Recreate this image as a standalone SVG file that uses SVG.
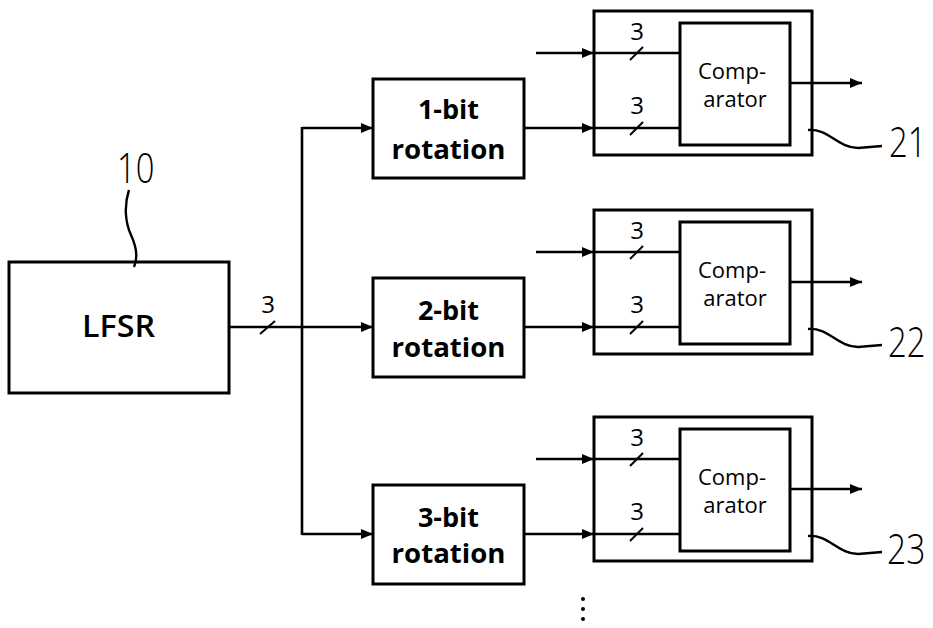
<svg xmlns="http://www.w3.org/2000/svg" width="933" height="628" viewBox="0 0 933 628">
<defs>
<marker id="ah" viewBox="0 0 12 10" refX="12" refY="5" markerWidth="12" markerHeight="10" markerUnits="userSpaceOnUse" orient="auto">
<path d="M0,0 L12,5 L0,10 z" fill="#000"/>
</marker>
<style>
.box{fill:#fff;stroke:#000;stroke-width:3}
.ln{fill:none;stroke:#000;stroke-width:2.6}
.arr{fill:none;stroke:#000;stroke-width:2.6;marker-end:url(#ah)}
.sl{stroke:#000;stroke-width:2}
.rot{font-family:"Open Sans","Liberation Sans",sans-serif;font-weight:bold;font-size:27px;text-anchor:middle;fill:#000}
.cmp{font-family:"Open Sans","Liberation Sans",sans-serif;font-size:22px;text-anchor:middle;fill:#000}
.bw{font-family:"Open Sans","Liberation Sans",sans-serif;font-size:24px;text-anchor:middle;fill:#000}
.ref{font-family:"Open Sans","Liberation Sans",sans-serif;font-weight:300;font-size:42px;fill:#000}
.lead{fill:none;stroke:#000;stroke-width:2.4}
</style>
</defs>
<rect width="933" height="628" fill="#fff"/>

<g id="lfsr">
<rect class="box" x="9" y="262" width="220" height="131"/>
<text x="118.5" y="337" font-family="'Open Sans','Liberation Sans',sans-serif" font-weight="600" font-size="31" text-anchor="middle" textLength="73" lengthAdjust="spacingAndGlyphs">LFSR</text>
</g>
<g id="ref10">
<path class="lead" d="M129,190 C124,205 125,222 131,235 C137,248 138,258 134,267"/>
<text class="ref" transform="translate(117,183) scale(0.78,1)">10</text>
</g>

<g id="rot1">
<rect class="box" x="373" y="79" width="151" height="99"/>
<text class="rot" x="448.5" y="119">1-bit</text>
<text class="rot" x="448.5" y="159" textLength="114" lengthAdjust="spacingAndGlyphs">rotation</text>
</g>
<g id="rot2">
<rect class="box" x="373" y="278" width="151" height="99"/>
<text class="rot" x="448.5" y="320">2-bit</text>
<text class="rot" x="448.5" y="357" textLength="114" lengthAdjust="spacingAndGlyphs">rotation</text>
</g>
<g id="rot3">
<rect class="box" x="373" y="485" width="151" height="99"/>
<text class="rot" x="448.5" y="527">3-bit</text>
<text class="rot" x="448.5" y="563" textLength="114" lengthAdjust="spacingAndGlyphs">rotation</text>
</g>

<g id="cmp21">
<rect class="box" x="594" y="11" width="218" height="144"/>
<rect class="box" x="680" y="23" width="110" height="122"/>
<text class="cmp" x="732" y="79">Comp-</text>
<text class="cmp" x="735" y="107">arator</text>
<path class="lead" d="M808,130 C828,128 838,148 858,148 L882,146"/>
<text class="ref" transform="translate(889,157) scale(0.78,1)">21</text>
</g>
<g id="cmp22">
<rect class="box" x="594" y="210" width="218" height="144"/>
<rect class="box" x="680" y="222" width="110" height="122"/>
<text class="cmp" x="732" y="278">Comp-</text>
<text class="cmp" x="735" y="306">arator</text>
<path class="lead" d="M808,329 C828,327 838,347 858,347 L882,345"/>
<text class="ref" transform="translate(888,357) scale(0.78,1)">22</text>
</g>
<g id="cmp23">
<rect class="box" x="594" y="417" width="218" height="144"/>
<rect class="box" x="680" y="429" width="110" height="122"/>
<text class="cmp" x="732" y="485">Comp-</text>
<text class="cmp" x="735" y="513">arator</text>
<path class="lead" d="M808,536 C828,534 838,554 858,554 L882,552"/>
<text class="ref" transform="translate(887,564) scale(0.8,1)">23</text>
</g>

<g id="connectors">
<path class="ln" d="M229,327 H302"/>
<path class="ln" d="M302,127 V535"/>
<line class="sl" x1="260" y1="334" x2="275" y2="321"/>
<text class="bw" x="268" y="313">3</text>
<path class="arr" d="M302,128 H373"/>
<path class="arr" d="M302,327 H373"/>
<path class="arr" d="M302,534 H373"/>

<path class="arr" d="M536,53 H594"/>
<path class="ln" d="M594,53 H680"/>
<path class="arr" d="M524,128 H594"/>
<path class="ln" d="M594,128 H680"/>
<path class="arr" d="M790,83 H862"/>
<line class="sl" x1="630" y1="60" x2="643" y2="47"/>
<line class="sl" x1="630" y1="135" x2="643" y2="122"/>
<text class="bw" x="637" y="40">3</text>
<text class="bw" x="637" y="114">3</text>

<path class="arr" d="M536,252 H594"/>
<path class="ln" d="M594,252 H680"/>
<path class="arr" d="M524,327 H594"/>
<path class="ln" d="M594,327 H680"/>
<path class="arr" d="M790,282 H862"/>
<line class="sl" x1="630" y1="259" x2="643" y2="246"/>
<line class="sl" x1="630" y1="334" x2="643" y2="321"/>
<text class="bw" x="637" y="239">3</text>
<text class="bw" x="637" y="313">3</text>

<path class="arr" d="M536,459 H594"/>
<path class="ln" d="M594,459 H680"/>
<path class="arr" d="M524,534 H594"/>
<path class="ln" d="M594,534 H680"/>
<path class="arr" d="M790,489 H862"/>
<line class="sl" x1="630" y1="466" x2="643" y2="453"/>
<line class="sl" x1="630" y1="541" x2="643" y2="528"/>
<text class="bw" x="637" y="446">3</text>
<text class="bw" x="637" y="520">3</text>
</g>

<g id="ellipsis">
<circle cx="583" cy="599" r="2"/>
<circle cx="583" cy="609" r="2"/>
<circle cx="583" cy="619" r="2"/>
</g>
</svg>
